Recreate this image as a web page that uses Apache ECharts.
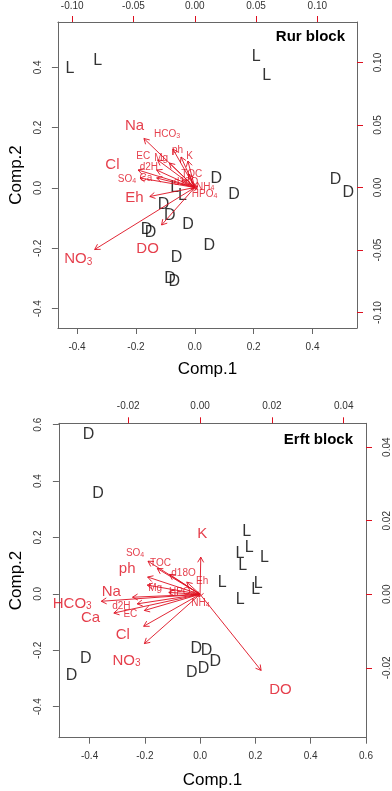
<!DOCTYPE html>
<html><head><meta charset="utf-8">
<script src="https://cdn.jsdelivr.net/npm/echarts@6/dist/echarts.min.js"></script>
<style>html,body{margin:0;padding:0;background:#fff}#c{width:392px;height:791px}</style>
</head><body><div id="c"></div>
<script>
// ---------- Rur block ----------
const rurScoreX = [-0.424,-0.330,0.209,0.244,-0.068,-0.042, 0.073,0.133,-0.106,-0.085,-0.023,-0.164,-0.150,0.049,-0.062,-0.084,-0.070,0.478,0.521];
const rurScoreY = [0.394,0.421,0.437,0.371,0.002,-0.026, 0.031,-0.021,-0.056,-0.093,-0.120,-0.139,-0.148,-0.191,-0.230,-0.299,-0.310,0.029,-0.014];
const rurGroup  = ['L','L','L','L','L','L','D','D','D','D','D','D','D','D','D','D','D','D','D'];
const rurVars   = ['Na','HCO_3','ph','K','EC','Mg','Cl','d2H','SO_4','Ca','TOC','d18O','NH_4','HPO_4','Eh','DO','NO_3'];
const rurTipX   = [-0.0415,-0.0179,-0.0112,-0.0056,-0.0303,-0.0207,-0.0463,-0.0311,-0.0447,-0.0311,-0.0048,-0.0104,0.0024,0.0016,-0.0367,-0.0271,-0.0817];
const rurTipY   = [0.0392,0.0308,0.0244,0.0212,0.0220,0.0196,0.0140,0.0140,0.0076,0.0076,0.0108,0.0060,0.0012,-0.0012,-0.0072,-0.0300,-0.0496];
const rurLabX   = [-0.0492,-0.0226,-0.0141,-0.0042,-0.0420,-0.0274,-0.0672,-0.0375,-0.0553,-0.0399,-0.0024,-0.0072,0.0085,0.0080,-0.0492,-0.0385,-0.0951];
const rurLabY   = [0.0492,0.0426,0.0300,0.0254,0.0252,0.0238,0.0180,0.0164,0.0066,0.0078,0.0108,0.0044,0.0006,-0.0054,-0.0086,-0.0494,-0.0574];
const rurBig    = ['Na','Cl','Eh','DO','NO_3'];
const rurScoreTicks = [-0.4,-0.2,0,0.2,0.4];
const rurLoadTicks  = [-0.10,-0.05,0,0.05,0.10];

// ---------- Erft block ----------
const erftScoreX = [0.168,0.177,0.144,0.233,0.154,0.080,0.210,0.201,0.145, -0.404,-0.369,-0.414,-0.465,-0.014,0.023,0.055,0.012,-0.030];
const erftScoreY = [0.221,0.164,0.144,0.127,0.099,0.040,0.038,0.017,-0.021, 0.564,0.357,-0.230,-0.291,-0.195,-0.202,-0.240,-0.266,-0.279];
const erftGroup  = ['L','L','L','L','L','L','L','L','L','D','D','D','D','D','D','D','D','D'];
const erftVars   = ['SO_4','ph','TOC','d18O','Eh','K','Mg','HPO_4','Na','HCO_3','d2H','EC','NH_4','Ca','Cl','NO_3','DO'];
const erftTipX   = [-0.0145,-0.0146,-0.0119,-0.0085,-0.0037,0.0002,-0.0147,-0.0087,-0.0188,-0.0275,-0.0175,-0.0155,-0.0003,-0.0240,-0.0157,-0.0155,0.0170];
const erftTipY   = [0.0090,0.0047,0.0070,0.0054,0.0033,0.0101,0.0025,0.0005,-0.0008,-0.0019,-0.0026,-0.0044,-0.0008,-0.0051,-0.0087,-0.0134,-0.0207];
const erftLabX   = [-0.0181,-0.0203,-0.0110,-0.0046,0.0006,0.0006,-0.0125,-0.0051,-0.0247,-0.0356,-0.0219,-0.0194,0.0001,-0.0305,-0.0215,-0.0205,0.0224];
const erftLabY   = [0.0112,0.0070,0.0084,0.0056,0.0035,0.0163,0.0016,0.0006,0.0006,-0.0025,-0.0033,-0.0055,-0.0024,-0.0063,-0.0110,-0.0181,-0.0259];
const erftBig    = ['K','ph','Na','HCO_3','Ca','Cl','NO_3','DO'];
const erftScoreTicks = [-0.4,-0.2,0,0.2,0.4,0.6];
const erftLoadTicks  = [-0.02,0,0.02,0.04];

// ---------- styles ----------
const FONT = 'Liberation Sans, Arial, sans-serif';
const RED = '#de0f1f';
const BOX = '#666';
const LAB = '#333';

function fmt(d){ return v => (Math.abs(v) < 1e-9 ? 0 : v).toFixed(d); }

function xAx(grid, pos, min, max, ticks, dec, tickColor, margin, name, nameGap){
  return {
    gridIndex: grid, type: 'value', position: pos, min: min, max: max,
    axisLine: {show: true, onZero: false, lineStyle: {color: BOX, width: 1}},
    axisTick: {show: true, length: 6, customValues: ticks, lineStyle: {color: tickColor, width: 1}},
    axisLabel: {show: true, customValues: ticks, formatter: fmt(dec), color: LAB, fontSize: 10, fontFamily: FONT, margin: margin},
    splitLine: {show: false},
    name: name || '', nameLocation: 'middle', nameGap: nameGap || 0,
    nameTextStyle: {fontSize: 17, color: '#000', fontFamily: FONT}
  };
}
function yAx(grid, pos, min, max, ticks, dec, tickColor, margin, name, nameGap){
  const a = xAx(grid, pos, min, max, ticks, dec, tickColor, margin, name, nameGap);
  a.axisLabel.rotate = 90;
  a.nameRotate = 90;
  return a;
}

function arrowSeries(xi, yi, tx, ty){
  return {
    type: 'custom', xAxisIndex: xi, yAxisIndex: yi, silent: true, z: 5,
    data: tx.map((x, i) => [x, ty[i]]),
    encode: {x: 0, y: 1},
    renderItem: function(params, api){
      const o = api.coord([0, 0]);
      const t = api.coord([api.value(0), api.value(1)]);
      const dx = t[0] - o[0], dy = t[1] - o[1];
      const ang = Math.atan2(dy, dx), h = 6, a = Math.PI / 6;
      return {
        type: 'group',
        children: [
          {type: 'line', shape: {x1: o[0], y1: o[1], x2: t[0], y2: t[1]}, style: {stroke: RED, lineWidth: 0.9}},
          {type: 'polyline', shape: {points: [
            [t[0] - h * Math.cos(ang - a), t[1] - h * Math.sin(ang - a)], [t[0], t[1]],
            [t[0] - h * Math.cos(ang + a), t[1] - h * Math.sin(ang + a)]]},
            style: {stroke: RED, fill: null, lineWidth: 0.9}}
        ]
      };
    }
  };
}

function varLabelSeries(xi, yi, names, lx, ly, bigList){
  const big = new Set(bigList);
  return {
    type: 'scatter', xAxisIndex: xi, yAxisIndex: yi, silent: true, z: 6,
    symbolSize: 1, itemStyle: {color: 'rgba(0,0,0,0)'},
    data: names.map((n, i) => ({value: [lx[i], ly[i]], name: n})),
    label: {
      show: true, position: 'inside',
      formatter: p => {
        const parts = p.name.split('_');
        const k = big.has(p.name) ? 'B' : 'S';
        return parts.length > 1 ? `{${k}|${parts[0]}}{${k}s|${parts[1]}}` : `{${k}|${parts[0]}}`;
      },
      rich: {
        B: {fontSize: 15, color: RED, fontFamily: FONT},
        Bs: {fontSize: 10, color: RED, fontFamily: FONT, verticalAlign: 'bottom'},
        S: {fontSize: 10, color: RED, fontFamily: FONT},
        Ss: {fontSize: 7, color: RED, fontFamily: FONT, verticalAlign: 'bottom'}
      }
    }
  };
}

function scoreSeries(xi, yi, xs, ys, grp){
  return {
    type: 'scatter', xAxisIndex: xi, yAxisIndex: yi, silent: true, z: 3,
    symbolSize: 1, itemStyle: {color: 'rgba(0,0,0,0)'},
    data: xs.map((x, i) => ({value: [x, ys[i]], name: grp[i]})),
    label: {show: true, position: 'inside', formatter: p => p.name, color: '#000', fontSize: 16, fontFamily: FONT}
  };
}

const chart = echarts.init(document.getElementById('c'), null, {renderer: 'canvas'});
chart.setOption({
  animation: false,
  backgroundColor: '#fff',
  grid: [
    {left: 51, top: 22, width: 306, height: 306},
    {left: 52.5, top: 423.3, width: 313.5, height: 314.4}
  ],
  xAxis: [
    xAx(0, 'bottom', -0.465, 0.551, rurScoreTicks, 1, BOX, 14, 'Comp.1', 33),
    xAx(0, 'top', -0.1117, 0.1324, rurLoadTicks, 2, RED, 11),
    xAx(1, 'bottom', -0.511, 0.600, erftScoreTicks, 1, BOX, 14, 'Comp.1', 34),
    xAx(1, 'top', -0.0393, 0.0462, erftLoadTicks, 2, RED, 12)
  ],
  yAxis: [
    yAx(0, 'left', -0.464, 0.550, rurScoreTicks, 1, BOX, 15, 'Comp.2', 31),
    yAx(0, 'right', -0.1124, 0.1324, rurLoadTicks, 2, RED, 16),
    yAx(1, 'left', -0.510, 0.605, erftScoreTicks, 1, BOX, 16, 'Comp.2', 32),
    yAx(1, 'right', -0.0390, 0.0465, erftLoadTicks, 2, RED, 16)
  ],
  graphic: [
    {type: 'text', x: 345, y: 37, z: 10, style: {text: 'Rur block', font: 'bold 15px ' + FONT, fill: '#000', align: 'right', verticalAlign: 'middle', textAlign: 'right', textVerticalAlign: 'middle'}},
    {type: 'text', x: 353, y: 440, z: 10, style: {text: 'Erft block', font: 'bold 15px ' + FONT, fill: '#000', align: 'right', verticalAlign: 'middle', textAlign: 'right', textVerticalAlign: 'middle'}}
  ],
  series: [
    scoreSeries(0, 0, rurScoreX, rurScoreY, rurGroup),
    arrowSeries(1, 1, rurTipX, rurTipY),
    varLabelSeries(1, 1, rurVars, rurLabX, rurLabY, rurBig),
    scoreSeries(2, 2, erftScoreX, erftScoreY, erftGroup),
    arrowSeries(3, 3, erftTipX, erftTipY),
    varLabelSeries(3, 3, erftVars, erftLabX, erftLabY, erftBig)
  ]
});
</script>
</body></html>
